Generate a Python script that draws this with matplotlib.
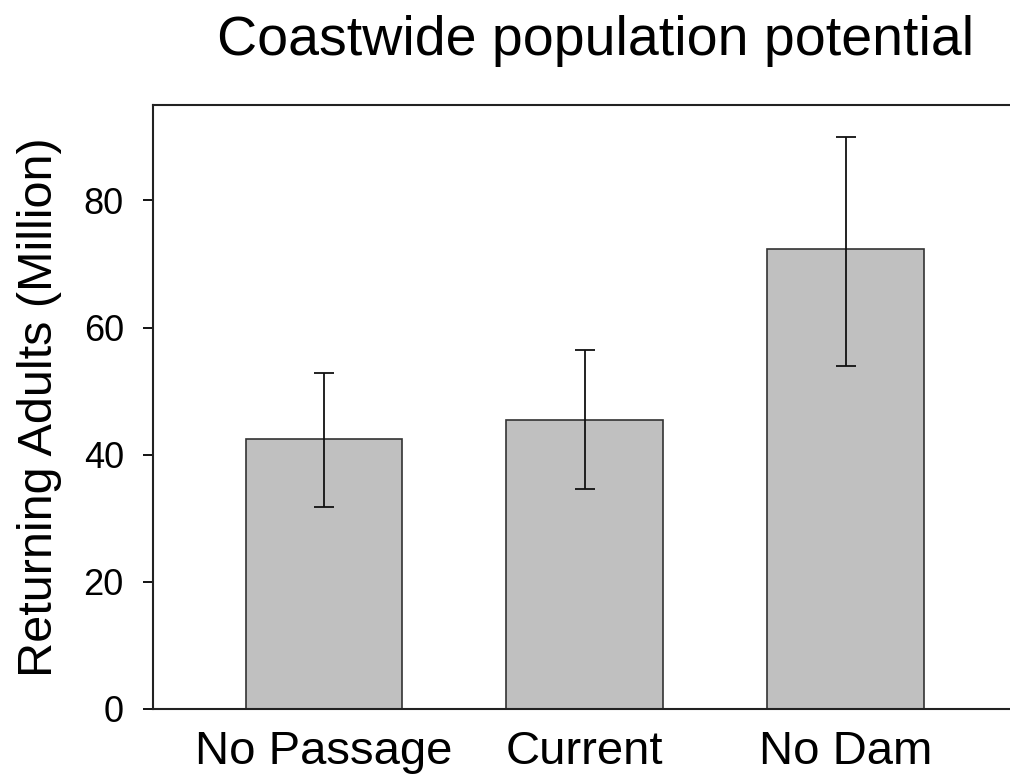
import matplotlib.pyplot as plt

# data
scenarios = ['No Passage', 'Current', 'No Dam']
returning_adults = [42.5, 45.4, 72.3]
err_low = [31.7, 34.6, 54.0]
err_high = [52.9, 56.4, 89.9]

plt.rcParams['font.family'] = ['Liberation Sans', 'DejaVu Sans']

fig = plt.figure(figsize=(10.1, 7.8), dpi=100)
ax = fig.add_axes([153 / 1010, 1 - 709 / 780, 1 - 153 / 1010, (709 - 105) / 780])

x = list(range(len(scenarios)))
yerr = [[v - lo for v, lo in zip(returning_adults, err_low)],
        [hi - v for v, hi in zip(returning_adults, err_high)]]
ax.bar(x, returning_adults, width=0.6, color='#c0c0c0', edgecolor='#333333', linewidth=1.2, zorder=2)
ax.errorbar(x, returning_adults, yerr=yerr, fmt='none', ecolor='#111111', elinewidth=1.3,
            capsize=7, capthick=1.3, zorder=3)

ax.set_xlim(-0.655, 2.63)
ax.set_ylim(0, 95)
ax.set_yticks([0, 20, 40, 60, 80])
ax.set_xticks(x)
ax.set_xticklabels(scenarios, fontsize=34)
ax.tick_params(axis='x', length=0, pad=15)
ax.tick_params(axis='y', labelsize=26, length=7, width=1.3, direction='out', pad=14)

ax.spines['right'].set_visible(False)
for side in ['left', 'top', 'bottom']:
    ax.spines[side].set_linewidth(1.5)
    ax.spines[side].set_color('#222222')

ax.set_ylabel('Returning Adults (Million)', fontsize=35)
# right edge of the rotated label sits about 62 px from the figure's left edge
ax.yaxis.set_label_coords(-(153 - 62) / (1010 - 153), 0.5)
fig.text(0.59, 1 - 55 / 780, 'Coastwide population potential', fontsize=40, ha='center', va='baseline')

fig.savefig('out.png', dpi=100)
